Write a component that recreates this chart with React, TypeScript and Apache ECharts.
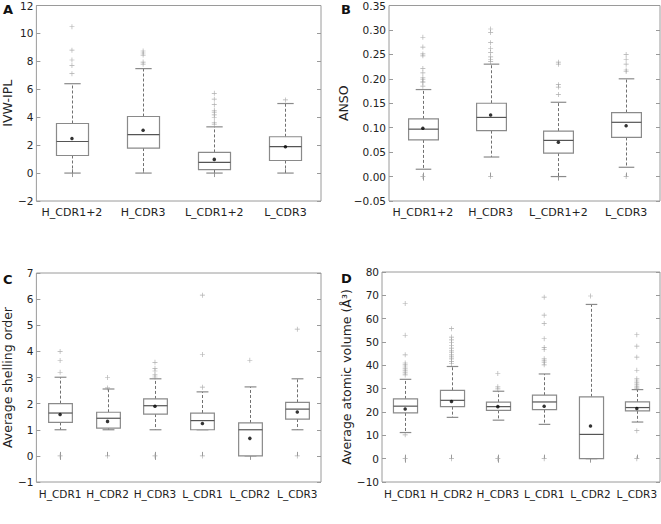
import React, { useEffect, useRef } from "react";
import * as echarts from "echarts";

// ---------- data ----------
const catsAB = ["H_CDR1+2", "H_CDR3", "L_CDR1+2", "L_CDR3"];
const catsCD = ["H_CDR1", "H_CDR2", "H_CDR3", "L_CDR1", "L_CDR2", "L_CDR3"];

// [lowWhisker, Q1, median, Q3, highWhisker]
const ivwBoxes = [
  [0, 1.26, 2.26, 3.55, 6.4],
  [0, 1.79, 2.76, 4.05, 7.48],
  [0, 0.24, 0.76, 1.48, 3.31],
  [0, 0.9, 1.9, 2.6, 4.98],
];
const ivwMeans = [2.48, 3.07, 0.98, 1.88];
const ivwOutliers = [
  [10.48, 8.8, 8.1, 7.7, 7.12],
  [8.74, 8.6, 8.45, 7.95, 7.8],
  [5.71, 5.29, 4.9, 4.5, 4.36, 4.17, 3.98, 3.64, 3.5],
  [5.24],
];

const ansoBoxes = [
  [0.015, 0.075, 0.097, 0.118, 0.178],
  [0.04, 0.094, 0.121, 0.15, 0.23],
  [0, 0.048, 0.074, 0.093, 0.152],
  [0.019, 0.08, 0.111, 0.131, 0.2],
];
const ansoMeans = [0.099, 0.126, 0.07, 0.104];
const ansoOutliers = [
  [0, 0.285, 0.265, 0.251, 0.247, 0.221, 0.212, 0.202, 0.198, 0.195, 0.192, 0.185],
  [0, 0.302, 0.295, 0.274, 0.262, 0.254, 0.245, 0.24, 0.235],
  [0.234, 0.23, 0.188, 0.183, 0.168],
  [0, 0.25, 0.24, 0.23, 0.218, 0.215],
];

const shellBoxes = [
  [1, 1.28, 1.64, 2.0, 3.01],
  [1, 1.06, 1.44, 1.67, 2.56],
  [1, 1.6, 1.92, 2.18, 2.95],
  [1, 1.0, 1.35, 1.64, 2.45],
  [0, 0, 1.0, 1.26, 2.64],
  [1, 1.41, 1.79, 2.05, 2.95],
];
const shellMeans = [1.58, 1.32, 1.9, 1.24, 0.67, 1.68];
const shellOutliers = [
  [0, 4.0, 3.65, 3.2],
  [0, 3.0, 2.6],
  [0, 3.58, 3.35, 3.25, 3.1, 3.02],
  [0, 6.15, 3.88, 2.63],
  [3.66],
  [0, 4.85],
];

const volBoxes = [
  [11.2, 19.6, 22.5, 25.6, 34.0],
  [17.7, 22.3, 25.0, 29.3, 39.5],
  [16.5, 20.7, 22.3, 24.2, 28.9],
  [14.7, 21.0, 24.3, 27.2, 36.3],
  [0, 0, 10.4, 26.5, 66.1],
  [15.7, 20.5, 21.9, 24.3, 29.6],
];
const volMeans = [21.3, 24.5, 22.3, 22.5, 14.0, 21.5];
const volOutliers = [
  [0, 10.2, 66.5, 52.9, 44.5, 41.0, 40.2, 39.3, 38.5, 37.6, 36.8, 35.9],
  [0, 55.7, 52.1, 50.9, 49.8, 48.6, 47.4, 46.2, 45.4, 44.5, 43.6, 42.8, 41.6, 40.8],
  [0, 36.5, 30.8, 29.9],
  [0, 69.2, 61.5, 57.9, 51.4, 47.6, 46.8, 42.8, 41.9, 41.1, 40.2],
  [69.7],
  [0, 12.0, 53.1, 48.2, 43.5, 37.9, 34.2, 33.3, 32.5, 31.6, 30.8, 30.2],
];

// ---------- styling ----------
const FONT = "DejaVu Sans";
const FRAME = "#9a9a9a";
const BOX = "#8a8a8a";
const MED = "#555555";
const WHISK = "#707070";
const OUT = "#9a9a9a";
const PLUS = "path://M-0.4,-3H0.4V-0.4H3V0.4H0.4V3H-0.4V0.4H-3V-0.4H-0.4Z";

type Panel = {
  cats: string[];
  boxes: number[][];
  means: number[];
  outliers: number[][];
  min: number;
  max: number;
  interval: number;
  decimals: number;
  name: string;
  nameGap: number;
  grid: { left: number; top: number; width: number; height: number };
  boxFrac: number;
  capFrac: number;
  catFont: number;
};

const panels: Panel[] = [
  {
    cats: catsAB, boxes: ivwBoxes, means: ivwMeans, outliers: ivwOutliers,
    min: -2, max: 12, interval: 2, decimals: 0, name: "IVW-IPL", nameGap: 17,
    grid: { left: 31, top: 5, width: 290, height: 196 }, boxFrac: 0.45, capFrac: 0.23, catFont: 11,
  },
  {
    cats: catsAB, boxes: ansoBoxes, means: ansoMeans, outliers: ansoOutliers,
    min: -0.05, max: 0.35, interval: 0.05, decimals: 2, name: "ANSO", nameGap: 37,
    grid: { left: 389, top: 5, width: 271, height: 196 }, boxFrac: 0.44, capFrac: 0.23, catFont: 11,
  },
  {
    cats: catsCD, boxes: shellBoxes, means: shellMeans, outliers: shellOutliers,
    min: -1, max: 7, interval: 1, decimals: 0, name: "Average shelling order", nameGap: 19,
    grid: { left: 32, top: 273, width: 289, height: 209 }, boxFrac: 0.5, capFrac: 0.25, catFont: 10.5,
  },
  {
    cats: catsCD, boxes: volBoxes, means: volMeans, outliers: volOutliers,
    min: -10, max: 80, interval: 10, decimals: 0, name: "Average atomic volume (Å³)", nameGap: 26,
    grid: { left: 382, top: 272, width: 278, height: 210 }, boxFrac: 0.52, capFrac: 0.25, catFont: 10.5,
  },
];

const panelLetters = [
  { t: "A", x: 3, y: 3 },
  { t: "B", x: 341, y: 3 },
  { t: "C", x: 3, y: 273 },
  { t: "D", x: 341, y: 272 },
];

function buildOption() {
  const grid: any[] = [];
  const xAxis: any[] = [];
  const yAxis: any[] = [];
  const series: any[] = [];

  panels.forEach((p, gi) => {
    grid.push({ ...p.grid, show: true, borderColor: FRAME, borderWidth: 1, backgroundColor: "#fff" });
    const xi = xAxis.length;
    xAxis.push({
      type: "category", gridIndex: gi, data: p.cats,
      axisLine: { show: false },
      axisTick: { show: true, inside: true, alignWithLabel: true, length: 4, lineStyle: { color: FRAME } },
      axisLabel: { show: true, interval: 0, fontFamily: FONT, fontSize: p.catFont, color: "#222", margin: 6 },
      splitLine: { show: false },
    });
    xAxis.push({
      type: "category", gridIndex: gi, data: p.cats, position: "top",
      axisLine: { show: false },
      axisTick: { show: true, inside: true, alignWithLabel: true, length: 4, lineStyle: { color: FRAME } },
      axisLabel: { show: false },
      splitLine: { show: false },
    });
    const yi = yAxis.length;
    yAxis.push({
      type: "value", gridIndex: gi, min: p.min, max: p.max, interval: p.interval, position: "left",
      name: p.name, nameLocation: "middle", nameGap: p.nameGap,
      nameTextStyle: { fontFamily: FONT, fontSize: 12.5, color: "#222" },
      axisLine: { show: false },
      axisTick: { show: true, inside: true, length: 4, lineStyle: { color: FRAME } },
      axisLabel: {
        fontFamily: FONT, fontSize: 10.5, color: "#222", margin: 3,
        formatter: (v: number) => v.toFixed(p.decimals).replace("-", "\u2212"),
      },
      splitLine: { show: false },
    });
    yAxis.push({
      type: "value", gridIndex: gi, min: p.min, max: p.max, interval: p.interval, position: "right",
      axisLine: { show: false },
      axisTick: { show: true, inside: true, length: 4, lineStyle: { color: FRAME } },
      axisLabel: { show: false },
      splitLine: { show: false },
    });

    const outData: number[][] = [];
    p.outliers.forEach((arr, i) => arr.forEach((v) => outData.push([i, v])));
    series.push({
      type: "scatter", xAxisIndex: xi, yAxisIndex: yi, data: outData,
      symbol: PLUS, symbolSize: 5, itemStyle: { color: OUT }, z: 2, silent: true,
    });

    const boxFrac = p.boxFrac;
    const capFrac = p.capFrac;
    series.push({
      type: "custom", xAxisIndex: xi, yAxisIndex: yi, z: 3, silent: true,
      data: p.boxes.map((b, i) => [i, ...b]),
      encode: { x: 0, y: [1, 2, 3, 4, 5] },
      renderItem: (params: any, api: any) => {
        const idx = api.value(0);
        const lo = api.coord([idx, api.value(1)]);
        const q1 = api.coord([idx, api.value(2)]);
        const md = api.coord([idx, api.value(3)]);
        const q3 = api.coord([idx, api.value(4)]);
        const hi = api.coord([idx, api.value(5)]);
        const band = api.size([1, 0])[0];
        const cx = Math.round(lo[0]) + 0.5;
        const bw = band * boxFrac;
        const cw = band * capFrac;
        const dash = { stroke: WHISK, lineWidth: 1, lineDash: [3, 2] };
        const solid = { stroke: BOX, lineWidth: 1.2 };
        return {
          type: "group",
          children: [
            { type: "line", shape: { x1: cx, y1: q3[1], x2: cx, y2: hi[1] }, style: dash },
            { type: "line", shape: { x1: cx, y1: q1[1], x2: cx, y2: lo[1] }, style: dash },
            { type: "line", shape: { x1: cx - cw / 2, y1: hi[1], x2: cx + cw / 2, y2: hi[1] }, style: solid },
            { type: "line", shape: { x1: cx - cw / 2, y1: lo[1], x2: cx + cw / 2, y2: lo[1] }, style: solid },
            {
              type: "rect",
              shape: { x: cx - bw / 2, y: q3[1], width: bw, height: q1[1] - q3[1] },
              style: { fill: "#fff", stroke: BOX, lineWidth: 1.2 },
            },
            { type: "line", shape: { x1: cx - bw / 2, y1: md[1], x2: cx + bw / 2, y2: md[1] }, style: { stroke: MED, lineWidth: 1.2 } },
          ],
        };
      },
    });

    series.push({
      type: "scatter", xAxisIndex: xi, yAxisIndex: yi, z: 4, silent: true,
      data: p.means.map((v, i) => [i, v]),
      symbol: "circle", symbolSize: 3.5, itemStyle: { color: "#000" },
    });
  });

  return {
    animation: false,
    backgroundColor: "#fff",
    grid, xAxis, yAxis, series,
    graphic: panelLetters.map((l) => ({
      type: "text", left: l.x, top: l.y,
      style: { text: l.t, fontFamily: FONT, fontSize: 13, fontWeight: "bold", fill: "#111" },
    })),
  };
}

export default function App() {
  const ref = useRef<HTMLDivElement>(null);
  useEffect(() => {
    if (!ref.current) return;
    const chart = echarts.init(ref.current, undefined, { renderer: "svg" });
    chart.setOption(buildOption() as any);
    return () => chart.dispose();
  }, []);
  return (
    <div
      ref={ref}
      style={{ position: "fixed", left: 0, top: 0, width: 661, height: 524, background: "#fff" }}
    />
  );
}
